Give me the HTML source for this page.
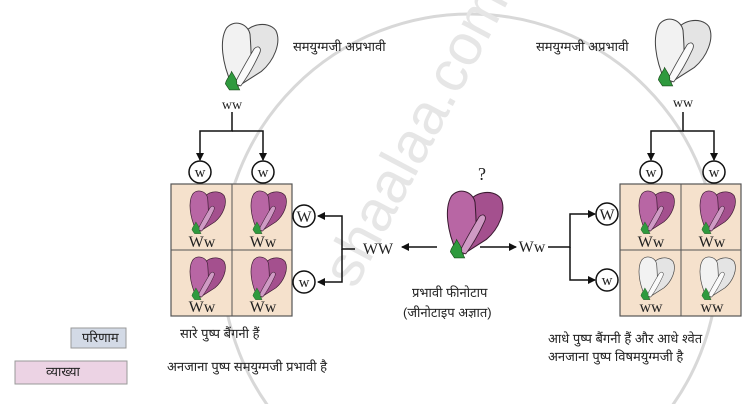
<!DOCTYPE html>
<html><head><meta charset="utf-8"><style>
html,body{margin:0;padding:0;background:#fff;overflow:hidden}
body{width:752px;height:404px;position:relative;overflow:hidden;font-family:"Liberation Serif","Noto Serif CJK SC",serif}
.t{position:absolute;font-family:"Liberation Sans","Noto Sans CJK SC",sans-serif;font-size:13px;color:#222;white-space:nowrap;line-height:1}
</style></head><body>
<svg width="752" height="404" style="position:absolute;left:0;top:0;overflow:hidden">
<defs>
<clipPath id="c"><rect x="0" y="0" width="752" height="404"/></clipPath>
<symbol id="fp" viewBox="0 0 60 70">
<path d="M24 16 C28 4 48 0 56 10 C62 22 54 40 42 50 L20 64 Z" fill="#a4508e" stroke="#3a1a30" stroke-width="1"/>
<path d="M13 62 C4 42 1 20 8 8 C15 -1 29 3 31 14 C32 28 33 40 30 52 Z" fill="#b866a4" stroke="#3a1a30" stroke-width="1"/>
<path d="M16 62 C22 50 29 38 35 28 C39 24 43 27 40 33 C34 46 28 56 22 64 Z" fill="#cf9ac4" stroke="#3a1a30" stroke-width="0.8"/>
<path d="M11 68 L7 62 C8 57 12 54 13 50 C16 55 19 59 18 62 L21 68 Z" fill="#2f9a3e" stroke="#1a4a1a" stroke-width="0.6"/>
</symbol>
<symbol id="fw" viewBox="0 0 60 70">
<path d="M24 16 C28 4 48 0 56 10 C62 22 54 40 42 50 L20 64 Z" fill="#e4e4e4" stroke="#444" stroke-width="1"/>
<path d="M13 62 C4 42 1 20 8 8 C15 -1 29 3 31 14 C32 28 33 40 30 52 Z" fill="#f2f2f2" stroke="#444" stroke-width="1"/>
<path d="M16 62 C22 50 29 38 35 28 C39 24 43 27 40 33 C34 46 28 56 22 64 Z" fill="#fafafa" stroke="#444" stroke-width="0.8"/>
<path d="M11 68 L7 62 C8 57 12 54 13 50 C16 55 19 59 18 62 L21 68 Z" fill="#2f9a3e" stroke="#1a4a1a" stroke-width="0.6"/>
</symbol>
<marker id="a" markerWidth="8" markerHeight="8" refX="7" refY="4" orient="auto" markerUnits="userSpaceOnUse"><path d="M0 0 L8 4 L0 8 Z" fill="#111"/></marker>
</defs>
<g clip-path="url(#c)">
<circle cx="470" cy="262" r="248" fill="none" stroke="#d8d8d8" stroke-width="3"/>
<text x="0" y="0" transform="translate(355,290) rotate(-62)" font-family="Liberation Sans" font-size="58" fill="#e6e6e6">shaalaa.com</text>
</g>

<rect x="171" y="184" width="121" height="132" fill="#f5e1cc" stroke="#555" stroke-width="1.2"/>
<line x1="232" y1="184" x2="232" y2="316" stroke="#555"/><line x1="171" y1="250" x2="292" y2="250" stroke="#555"/>
<rect x="620" y="184" width="121" height="132" fill="#f5e1cc" stroke="#555" stroke-width="1.2"/>
<line x1="681" y1="184" x2="681" y2="316" stroke="#555"/><line x1="620" y1="250" x2="741" y2="250" stroke="#555"/>

<use href="#fw" x="215" y="20" width="68" height="72"/>
<use href="#fw" x="648" y="16" width="68" height="72"/>
<use href="#fp" x="443" y="188" width="62" height="72"/>
<use href="#fp" x="187" y="189" width="40" height="46"/>
<use href="#fp" x="248" y="189" width="40" height="46"/>
<use href="#fp" x="187" y="255" width="40" height="46"/>
<use href="#fp" x="248" y="255" width="40" height="46"/>
<use href="#fp" x="636" y="189" width="40" height="46"/>
<use href="#fp" x="697" y="189" width="40" height="46"/>
<use href="#fw" x="636" y="255" width="40" height="46"/>
<use href="#fw" x="697" y="255" width="40" height="46"/>

<g stroke="#111" stroke-width="1.5" fill="none">
<path d="M232 112 V131 H200 V160" marker-end="url(#a)"/>
<path d="M232 131 H263 V160" marker-end="url(#a)"/>
<path d="M683 112 V131 H651 V160" marker-end="url(#a)"/>
<path d="M683 131 H714 V160" marker-end="url(#a)"/>
<path d="M355 249 H342 V216 H318" marker-end="url(#a)"/>
<path d="M342 249 V282 H318" marker-end="url(#a)"/>
<path d="M437 247 H402" marker-end="url(#a)"/>
<path d="M480 247 H516" marker-end="url(#a)"/>
<path d="M548 247 H570 V214 H595" marker-end="url(#a)"/>
<path d="M570 247 V280 H595" marker-end="url(#a)"/>
</g>
<g stroke="#111" stroke-width="1.5" fill="#fff">
<circle cx="200" cy="172" r="11"/><circle cx="263" cy="172" r="11"/>
<circle cx="651" cy="172" r="11"/><circle cx="714" cy="172" r="11"/>
<circle cx="304" cy="216" r="11"/><circle cx="304" cy="282" r="11"/>
<circle cx="607" cy="214" r="11"/><circle cx="607" cy="280" r="11"/>
</g>
<g font-family="Liberation Serif" font-size="15" fill="#222" text-anchor="middle">
<text x="200" y="177">w</text><text x="263" y="177">w</text>
<text x="651" y="177">w</text><text x="714" y="177">w</text>
<text x="304" y="222" font-size="16">W</text><text x="304" y="287">w</text>
<text x="607" y="220" font-size="16">W</text><text x="607" y="285">w</text>
<text x="232" y="109" font-size="14">ww</text><text x="683" y="107" font-size="14">ww</text>
<text x="378" y="254" font-size="16">WW</text>
<text x="532" y="252" font-size="16">Ww</text>
<text x="482" y="180" font-size="18">?</text>
<text x="202" y="247" font-size="16">Ww</text><text x="263" y="247" font-size="16">Ww</text>
<text x="202" y="312" font-size="16">Ww</text><text x="263" y="312" font-size="16">Ww</text>
<text x="651" y="247" font-size="16">Ww</text><text x="712" y="247" font-size="16">Ww</text>
<text x="651" y="312" font-size="16">ww</text><text x="712" y="312" font-size="16">ww</text>
</g>
<rect x="71" y="328" width="55" height="20" fill="#d3dae6" stroke="#999"/>
<rect x="15" y="361" width="112" height="23" fill="#ecd3e4" stroke="#999"/>
</svg>
<div class="t" style="left:293px;top:40px">समयुग्मजी अप्रभावी</div>
<div class="t" style="left:536px;top:40px">समयुग्मजी अप्रभावी</div>
<div class="t" style="left:412px;top:286px">प्रभावी फीनोटाप</div>
<div class="t" style="left:403px;top:306px">(जीनोटाइप अज्ञात)</div>
<div class="t" style="left:180px;top:327px">सारे पुष्प बैंगनी हैं</div>
<div class="t" style="left:167px;top:360px">अनजाना पुष्प समयुग्मजी प्रभावी है</div>
<div class="t" style="left:548px;top:332px">आधे पुष्प बैंगनी हैं और आधे श्वेत</div>
<div class="t" style="left:548px;top:350px">अनजाना पुष्प विषमयुग्मजी है</div>
<div class="t" style="left:82px;top:331px">परिणाम</div>
<div class="t" style="left:46px;top:365px">व्याख्या</div>
</body></html>
